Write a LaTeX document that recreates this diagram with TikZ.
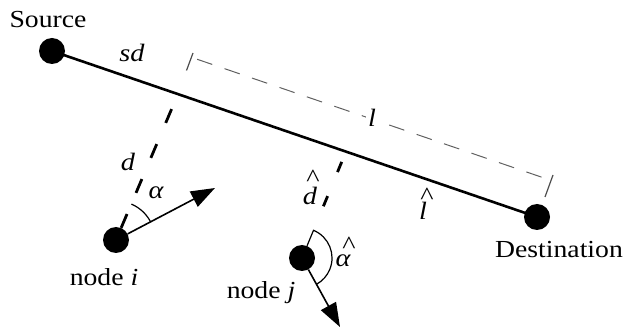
\documentclass[tikz,border=0pt]{standalone}
\usepackage{fontspec}
\setmainfont{Liberation Serif}[FakeStretch=1.13]
\usetikzlibrary{arrows.meta}
\newcommand{\hatlet}[3]{%
  \setbox0\hbox{\itshape #1}%
  \hbox to \wd0{\hss\raisebox{#2}[0pt][0pt]{\makebox[0pt]{\hspace*{#3}\upshape\textasciicircum\hspace*{-#3}}}\hss}%
  \kern-\wd0\box0}
\begin{document}
\begin{tikzpicture}[x=1pt,y=-1pt,
  dot/.style={circle,fill=black,inner sep=0pt,minimum size=26pt},
  lbl/.style={font=\fontsize{24.5}{28}\selectfont,inner sep=0pt},
  mlbl/.style={font=\fontsize{25}{28}\selectfont\itshape,inner sep=0pt},
  mainline/.style={line width=2.6pt},
  perp/.style={line width=2.8pt,dash pattern=on 15pt off 23pt},
  perpj/.style={line width=2.8pt,dash pattern=on 11pt off 26pt,dash phase=11pt},
  dim/.style={line width=1pt,gray!75!black,dash pattern=on 16pt off 13pt,dash phase=22pt},
  tickm/.style={line width=1.2pt,gray!60!black},
  heading/.style={line width=1.6pt,-{Triangle[length=24pt,width=17pt]}},
  angarc/.style={line width=1.2pt}]
\useasboundingbox (0,0) rectangle (626,328);
% nodes
\node[dot] (S) at (52,51) {};
\node[dot] (D) at (537,217) {};
\node[dot] (ni) at (116,240) {};
\node[dot] (nj) at (302,258) {};
% main segment
\draw[mainline] (S.center) -- (D.center);
% feet of perpendiculars on the segment
\coordinate (Fi) at (178,94);
\coordinate (Fj) at (346,151.5);
% dimension line l
\coordinate (L1) at (190.5,57);
\coordinate (L2) at (549,179.7);
\coordinate (L1a) at (193,53);
\coordinate (L1b) at (186.5,70.5);
\coordinate (L2a) at (553,175);
\coordinate (L2b) at (545,197);
\draw[dim] (L1) -- (L2);
\draw[tickm] (L1a) -- (L1b);
\draw[tickm] (L2a) -- (L2b);
% node i
\draw[perp] (ni) -- (Fi);
\coordinate (Hi) at (215,188);
\draw[heading] (ni) -- (Hi);
\coordinate (Ai) at (131.4,204.1);
\draw[angarc] (Ai) arc[start angle=-66.8,end angle=-27.7,radius=39];
% node j
\coordinate (Aj) at (313.5,230.3);
\draw[perpj] (Aj) -- (Fj);
\draw[angarc] (nj) -- (Aj) arc[start angle=-67.5,end angle=61.2,radius=30];
\coordinate (Hj) at (340,327);
\draw[heading] (nj) -- (Hj);
% labels
\node[lbl] (tS) at (48,20) {Source};
\node[lbl] (tD) at (559,250) {Destination};
\node[lbl] (tni) at (104,277) {node \textit{i}};
\node[lbl] (tnj) at (261,293) {node \textit{j}};
\node[mlbl] (tsd) at (132,53) {sd};
\node[mlbl] (td) at (128,162) {d};
\node[mlbl] (ta) at (156,193) {α};
\node[mlbl,fill=white,inner sep=2pt] (tl) at (372,118) {l};
\node[mlbl,anchor=base] (tdh) at (310,205) {\hatlet{d}{18pt}{3pt}};
\node[mlbl,anchor=base] (tah) at (343,267) {\hatlet{α}{13pt}{6pt}};
\node[mlbl,anchor=base] (tlh) at (423,220) {\hatlet{l}{15pt}{4pt}};
\end{tikzpicture}
\end{document}
